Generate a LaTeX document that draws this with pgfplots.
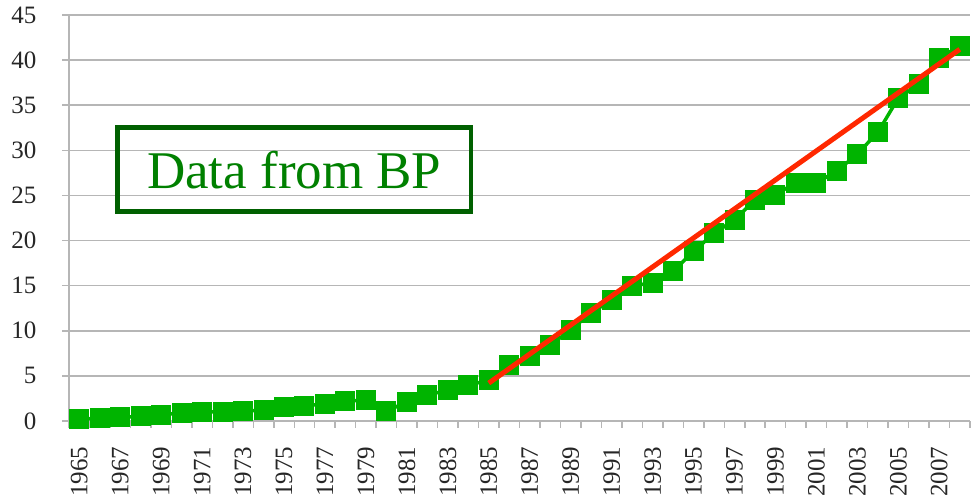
\documentclass[border=0pt]{standalone}
\usepackage{pgfplots}
\pgfplotsset{compat=1.18}
\usepackage{fontspec}
\setmainfont{Liberation Serif}
\definecolor{ggreen}{RGB}{0,180,0}
\definecolor{boxgreen}{RGB}{0,96,0}
\definecolor{txtgreen}{RGB}{0,128,0}
\definecolor{tred}{RGB}{255,40,0}
\definecolor{gridgray}{RGB}{182,182,182}
\pgfplotstableread{
year value
1965 0.2
1966 0.3
1967 0.4
1968 0.5
1969 0.7
1970 0.9
1971 1.0
1972 1.0
1973 1.1
1974 1.2
1975 1.5
1976 1.7
1977 1.9
1978 2.2
1979 2.3
1980 1.1
1981 2.1
1982 2.9
1983 3.4
1984 4.0
1985 4.5
1986 6.2
1987 7.2
1988 8.4
1989 10.1
1990 12.0
1991 13.4
1992 15.0
1993 15.3
1994 16.6
1995 18.8
1996 20.8
1997 22.3
1998 24.5
1999 25.1
2000 26.4
2001 26.4
2002 27.7
2003 29.6
2004 32.0
2005 35.8
2006 37.3
2007 40.2
2008 41.6
}\datatable
\begin{document}
\begin{tikzpicture}
\useasboundingbox (0,0) rectangle (978bp,500bp);
\begin{axis}[
  at={(69bp,79bp)}, anchor=south west,
  scale only axis,
  width=901bp, height=406bp,
  xmin=1964.5, xmax=2008.5,
  ymin=0, ymax=45,
  axis lines*=left,
  axis line style={gridgray, line width=1.5bp},
  ytick={0,5,...,45},
  ymajorgrids,
  grid style={gridgray, line width=1.5bp},
  xtick={1964.5,1965.5,...,2008.5},
  xticklabels={},
  extra x ticks={1965,1967,...,2007},
  extra x tick labels={1965,1967,1969,1971,1973,1975,1977,1979,1981,1983,1985,1987,1989,1991,1993,1995,1997,1999,2001,2003,2005,2007},
  extra x tick style={major tick length=0pt, grid=none},
  tick align=outside,
  major tick length=7bp,
  tick style={gridgray, line width=1.5bp},
  /pgf/number format/assume math mode=true,
  yticklabel style={font=\fontsize{25bp}{27bp}\selectfont, text=black!85, xshift=-22bp},
  xticklabel style={font=\fontsize{25bp}{27bp}\selectfont, text=black!85, rotate=90, anchor=east, xshift=-22bp},
  clip=false,
  clip marker paths=true,
]
\addplot[ggreen, line width=3.5bp, mark=square*, mark size=9.5bp, mark options={solid, fill=ggreen, draw=ggreen, line width=1bp}] table[x=year, y=value] {\datatable};
\addplot[tred, line width=5bp, no marks] coordinates {(1985,4.2) (2008,41.2)};
\node[draw=boxgreen, line width=4.5bp, minimum width=353bp, minimum height=84bp, text=txtgreen, font=\fontsize{53bp}{60bp}\selectfont, inner sep=0pt] at (axis cs:1975.5,27.85) {Data from BP};
\end{axis}
\end{tikzpicture}
\end{document}
